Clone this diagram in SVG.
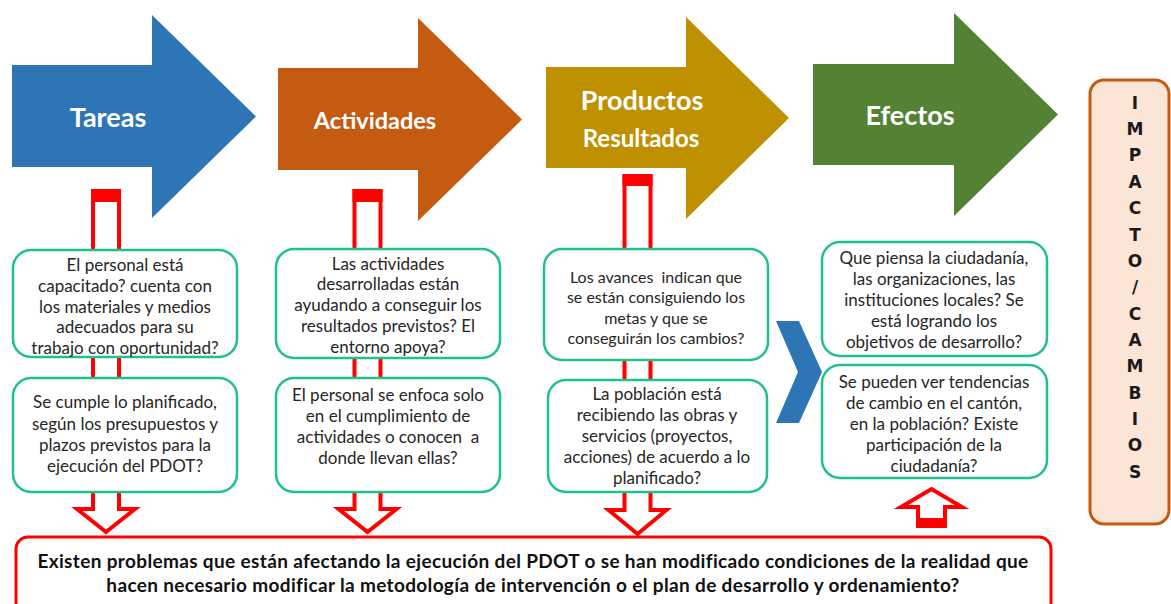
<svg xmlns="http://www.w3.org/2000/svg" width="1171" height="604" viewBox="0 0 1171 604">
<style>
.head{font-family:Lato,"Liberation Sans",sans-serif;font-weight:bold;fill:#fff;text-anchor:middle}
.box{fill:#fff;stroke:#20C18F;stroke-width:2.5}
.t{font-family:Lato,"Liberation Sans",sans-serif;font-size:17px;fill:#262626;text-anchor:middle}
.pipe{fill:#fff;stroke:#FF0000;stroke-width:4;stroke-linejoin:miter}
.band{fill:#FF0000}
.imp{font-family:"DejaVu Sans",Verdana,sans-serif;font-weight:bold;font-size:17px;fill:#1a1a1a;text-anchor:middle}
.bot{font-family:Lato,"Liberation Sans",sans-serif;font-weight:bold;font-size:19px;letter-spacing:0.35px;fill:#111;text-anchor:middle}
</style>
<rect width="1171" height="604" fill="#fff"/>
<g id="connectors">
<path class="pipe" d="M93,191 H119 V509 H135 L106,532 L77,509 H93 Z"/>
<rect class="band" x="91" y="189" width="30" height="13"/>
<path class="pipe" d="M354.5,191 H380.5 V509 H396.5 L367.5,532 L338.5,509 H354.5 Z"/>
<rect class="band" x="352.5" y="189" width="30" height="13"/>
<path class="pipe" d="M624.5,176 H650.5 V510 H666.5 L637.5,534 L608.5,510 H624.5 Z"/>
<rect class="band" x="622.5" y="174" width="30" height="12"/>
<path class="pipe" d="M918,526 V507 H901 L931.5,489 L962,507 H945 V526 Z"/>
<rect class="band" x="916" y="518" width="31" height="10"/>
<polygon id="chevron" points="776,321 799,321 822,372 799,423 776,423 798,372" fill="#2E75B6"/>
</g>
<g id="tareas">
<polygon points="12,65 152,65 152,15 256,116.5 152,218 152,167 12,167" fill="#2E75B6"/>
<text class="head" x="108" y="127" font-size="27">Tareas</text>
</g>
<g id="actividades">
<polygon points="278,68 418,68 418,18 522,119.5 418,221 418,170 278,170" fill="#C55A11"/>
<text class="head" x="375" y="129" font-size="23.5">Actividades</text>
</g>
<g id="productos">
<polygon points="546,67 686,67 686,17 789,118 686,219 686,168 546,168" fill="#BF9000"/>
<text class="head" x="642" y="110" font-size="27">Productos</text>
<text class="head" x="641" y="147" font-size="24">Resultados</text>
</g>
<g id="efectos">
<polygon points="813,64 954,64 954,13 1058,114.5 954,216 954,165 813,165" fill="#548235"/>
<text class="head" x="910" y="125" font-size="27">Efectos</text>
</g>
<g id="box1a">
<rect class="box" x="13" y="250" width="224" height="107" rx="18"/>
<text class="t"><tspan x="125" y="271">El personal está</tspan><tspan x="125" y="292">capacitado? cuenta con</tspan><tspan x="125" y="313">los materiales y medios</tspan><tspan x="125" y="333">adecuados para su</tspan><tspan x="125" y="354">trabajo con oportunidad?</tspan></text>
</g>
<g id="box1b">
<rect class="box" x="13" y="378" width="224" height="114" rx="18"/>
<text class="t"><tspan x="125" y="408">Se cumple lo planificado,</tspan><tspan x="125" y="430">según los presupuestos y</tspan><tspan x="125" y="451">plazos previstos para la</tspan><tspan x="125" y="472">ejecución del PDOT?</tspan></text>
</g>
<g id="box2a">
<rect class="box" x="276" y="249" width="224" height="109" rx="18"/>
<text class="t"><tspan x="388" y="270">Las actividades</tspan><tspan x="388" y="290">desarrolladas están</tspan><tspan x="388" y="311">ayudando a conseguir los</tspan><tspan x="388" y="332">resultados previstos? El</tspan><tspan x="388" y="353">entorno apoya?</tspan></text>
</g>
<g id="box2b">
<rect class="box" x="276" y="378" width="224" height="114" rx="18"/>
<text class="t"><tspan x="388" y="401">El personal se enfoca solo</tspan><tspan x="388" y="422">en el cumplimiento de</tspan><tspan x="388" y="443">actividades o conocen&#160; a</tspan><tspan x="388" y="464">donde llevan ellas?</tspan></text>
</g>
<g id="box3a">
<rect class="box" x="544" y="249" width="224" height="111" rx="18"/>
<text class="t" style="font-size:16px"><tspan x="656" y="283">Los avances&#160; indican que</tspan><tspan x="656" y="303">se están consiguiendo los</tspan><tspan x="656" y="324">metas y que se</tspan><tspan x="656" y="344">conseguirán los cambios?</tspan></text>
</g>
<g id="box3b">
<rect class="box" x="548" y="380" width="219" height="112" rx="18"/>
<text class="t"><tspan x="657" y="400">La población está</tspan><tspan x="657" y="421">recibiendo las obras y</tspan><tspan x="657" y="442">servicios (proyectos,</tspan><tspan x="657" y="463">acciones) de acuerdo a lo</tspan><tspan x="657" y="484">planificado?</tspan></text>
</g>
<g id="box4a">
<rect class="box" x="822" y="242" width="225" height="114" rx="18"/>
<text class="t"><tspan x="934" y="264">Que piensa la ciudadanía,</tspan><tspan x="934" y="285">las organizaciones, las</tspan><tspan x="934" y="306">instituciones locales? Se</tspan><tspan x="934" y="327">está logrando los</tspan><tspan x="934" y="348">objetivos de desarrollo?</tspan></text>
</g>
<g id="box4b">
<rect class="box" x="822" y="365" width="225" height="113" rx="18"/>
<text class="t"><tspan x="934" y="388">Se pueden ver tendencias</tspan><tspan x="934" y="409">de cambio en el cantón,</tspan><tspan x="934" y="430">en la población? Existe</tspan><tspan x="934" y="451">participación de la</tspan><tspan x="934" y="472">ciudadanía?</tspan></text>
</g>
<g id="impacto">
<rect x="1090" y="80" width="79" height="444" rx="14" fill="#FBE5D6" stroke="#C55A11" stroke-width="3"/>
<text class="imp"><tspan x="1135" y="109">I</tspan><tspan x="1135" y="135">M</tspan><tspan x="1135" y="161">P</tspan><tspan x="1135" y="188">A</tspan><tspan x="1135" y="214">C</tspan><tspan x="1135" y="241">T</tspan><tspan x="1135" y="267">O</tspan><tspan x="1135" y="293">/</tspan><tspan x="1135" y="320">C</tspan><tspan x="1135" y="346">A</tspan><tspan x="1135" y="372">M</tspan><tspan x="1135" y="399">B</tspan><tspan x="1135" y="425">I</tspan><tspan x="1135" y="451">O</tspan><tspan x="1135" y="478">S</tspan></text>
</g>
<g id="problemas">
<rect x="16" y="537" width="1035" height="80" rx="12" fill="#fff" stroke="#FF0000" stroke-width="3"/>
<text class="bot"><tspan x="533" y="568">Existen problemas que están afectando la ejecución del PDOT o se han modificado condiciones de la realidad que</tspan><tspan x="533" y="592">hacen necesario modificar la metodología de intervención o el plan de desarrollo y ordenamiento?</tspan></text>
</g>
</svg>
